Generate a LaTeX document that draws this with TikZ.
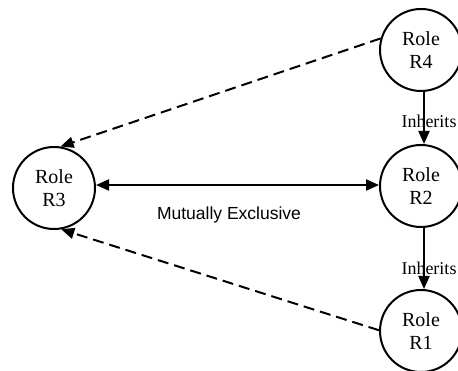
\documentclass[tikz,border=0pt]{standalone}
\usepackage{fontspec}
\setmainfont{Liberation Serif}
\newfontfamily\labelsans{Liberation Sans}
\usetikzlibrary{arrows.meta}
\begin{document}
\begin{tikzpicture}[x=1pt,y=-1pt,
  role/.style={circle,draw,line width=2pt,minimum size=82pt,inner sep=0pt,align=center,font=\fontsize{20}{23}\selectfont},
  conn/.style={line width=2pt,-{Triangle[length=13pt,width=11pt]}},
  dconn/.style={conn,dash pattern=on 11pt off 6pt},
  lbl/.style={font=\fontsize{18}{20}\selectfont,inner sep=0pt}]
\useasboundingbox (0,0) rectangle (458,371);
\node[role] (R4) at (421,50) {Role\\R4};
\node[role] (R2) at (421,186) {Role\\R2};
\node[role] (R1) at (421,331) {Role\\R1};
\node[role] (R3) at (54,188) {Role\\R3};
\draw[conn,{Triangle[length=13pt,width=11pt]}-{Triangle[length=13pt,width=11pt]}] (R3.east |- 0,185) -- (R2.west |- 0,185);
\node[lbl,font=\labelsans\fontsize{17.5}{20}\selectfont] (me) at (229,215) {Mutually Exclusive};
\draw[conn] ([xshift=3pt]R4.south) -- ([xshift=3pt]R2.north);
\draw[conn] ([xshift=3pt]R2.south) -- ([xshift=3pt]R1.north);
\node[lbl] (i1) at (429,121) {Inherits};
\node[lbl] (i2) at (429,268) {Inherits};
\draw[dconn] (R4.164) -- (R3.81);
\draw[dconn] (R1.179) -- (R3.-80);
\end{tikzpicture}
\end{document}
